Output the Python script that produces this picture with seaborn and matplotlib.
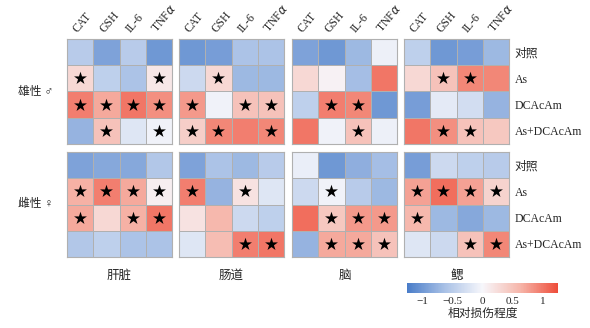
import numpy as np
import matplotlib
matplotlib.use("Agg")
import matplotlib.pyplot as plt
import seaborn as sns
from matplotlib.colors import LinearSegmentedColormap, Normalize
import matplotlib.cm as cm

sns.set_style("white")
plt.rcParams['font.family'] = ['Liberation Serif', 'Noto Sans CJK SC', 'DejaVu Sans']
plt.rcParams['axes.unicode_minus'] = True

# ======= DATA =======
indicators = ["CAT", "GSH", "IL-6", r"TNF$\alpha$"]
treatments = ["对照", "As", "DCAcAm", "As+DCAcAm"]
tissues = ["肝脏", "肠道", "脑", "鳃"]
sexes = ["雄性 ♂", "雌性 ♀"]

# relative damage, rows = treatments, cols = indicators
male_liver = [[-0.5, -0.9, -0.5, -1.0],
              [0.3, -0.45, -0.6, 0.15],
              [0.95, 0.7, 1.0, 0.85],
              [-0.75, 0.5, -0.2, -0.05]]
male_gut = [[-1.0, -0.95, -0.6, -0.6],
            [-0.35, 0.3, -0.7, -0.7],
            [0.8, -0.05, 0.5, 0.5],
            [0.4, 0.9, 0.95, 0.9]]
male_brain = [[-0.9, -1.0, -0.7, -0.08],
              [0.3, 0.05, -0.65, 1.0],
              [-0.45, 0.95, 0.9, -1.0],
              [1.0, -0.05, 0.5, -0.08]]
male_gill = [[-0.45, -1.0, -0.95, -0.7],
             [0.3, 0.5, 0.9, 0.9],
             [-0.95, -0.15, -0.3, -0.75],
             [1.0, 0.85, 0.5, 0.45]]
female_liver = [[-0.9, -0.85, -0.85, -0.55],
                [0.65, 0.95, 0.7, 0.08],
                [0.7, 0.3, 0.65, 1.0],
                [-0.55, -0.45, -0.6, -0.6]]
female_gut = [[-0.9, -0.6, -0.7, -0.5],
              [0.95, -0.75, 0.2, -0.2],
              [0.2, 0.6, -0.35, -0.45],
              [-0.2, 0.55, 0.95, 1.0]]
female_brain = [[-0.1, -1.0, -0.8, -0.65],
                [-0.35, -0.05, -0.5, -0.7],
                [1.05, 0.45, 0.8, 0.8],
                [-0.75, 0.7, 0.7, 0.5]]
female_gill = [[-0.95, -0.35, -0.45, -0.5],
               [0.75, 1.05, 0.75, 0.35],
               [0.6, -0.7, -0.85, -0.7],
               [-0.2, -0.35, 0.5, 0.9]]

# significance marks (1 = star)
male_liver_sig = [[0, 0, 0, 0], [1, 0, 0, 1], [1, 1, 1, 1], [0, 1, 0, 1]]
male_gut_sig = [[0, 0, 0, 0], [0, 1, 0, 0], [1, 0, 1, 1], [1, 1, 0, 1]]
male_brain_sig = [[0, 0, 0, 0], [0, 0, 0, 0], [0, 1, 1, 0], [0, 0, 1, 0]]
male_gill_sig = [[0, 0, 0, 0], [0, 1, 1, 0], [0, 0, 0, 0], [0, 1, 1, 0]]
female_liver_sig = [[0, 0, 0, 0], [1, 1, 1, 1], [1, 0, 1, 1], [0, 0, 0, 0]]
female_gut_sig = [[0, 0, 0, 0], [1, 0, 1, 0], [0, 0, 0, 0], [0, 0, 1, 1]]
female_brain_sig = [[0, 0, 0, 0], [0, 1, 0, 0], [0, 1, 1, 1], [0, 1, 1, 1]]
female_gill_sig = [[0, 0, 0, 0], [1, 1, 1, 1], [1, 0, 0, 0], [0, 0, 1, 1]]

values = [[male_liver, male_gut, male_brain, male_gill],
          [female_liver, female_gut, female_brain, female_gill]]
stars = [[male_liver_sig, male_gut_sig, male_brain_sig, male_gill_sig],
         [female_liver_sig, female_gut_sig, female_brain_sig, female_gill_sig]]

vmin, vmax = -1.25, 1.25
cmap = LinearSegmentedColormap.from_list(
    "dmg", ["#4a7dc9", "#a9c1e6", "#f7f7fb", "#f6b6aa", "#ee4d3a"])

# ======= LAYOUT (pixels) =======
W, H = 590, 328
fig = plt.figure(figsize=(W / 100, H / 100), dpi=100)

lefts = [67, 179, 292, 404]
tops = [39, 152]
size_w, size_h = 105, 105
fs = 8.5

for r in range(2):
    for c in range(4):
        ax = fig.add_axes([lefts[c] / W, 1 - (tops[r] + size_h) / H,
                           size_w / W, size_h / H])
        data = np.array(values[r][c])
        sns.heatmap(data, ax=ax, cmap=cmap, vmin=vmin, vmax=vmax, cbar=False,
                    linewidths=0.6, linecolor="#b0b0b0", square=False)
        sig = np.array(stars[r][c])
        ys, xs = np.nonzero(sig)
        ax.scatter(xs + 0.5, ys + 0.5, marker="*", s=95, c="black",
                   linewidths=0, zorder=3)
        for sp in ax.spines.values():
            sp.set_visible(True)
            sp.set_color("#b0b0b0")
            sp.set_linewidth(0.8)
        ax.tick_params(length=0)
        if r == 0:
            ax.xaxis.tick_top()
            ax.set_xticks(np.arange(4) + 0.5)
            ax.set_xticklabels(indicators, rotation=50, ha="left",
                               rotation_mode="anchor", fontsize=fs)
            ax.tick_params(axis="x", pad=3)
        else:
            ax.set_xticks([])
            ax.set_xlabel(tissues[c], fontsize=fs + 0.5, labelpad=9)
        if c == 3:
            ax.yaxis.tick_right()
            ax.set_yticks(np.arange(4) + 0.5)
            ax.set_yticklabels(treatments, rotation=0, fontsize=fs)
            ax.tick_params(axis="y", pad=4)
        else:
            ax.set_yticks([])
        if c == 0:
            ax.set_ylabel(sexes[r], rotation=0, fontsize=fs, ha="right",
                          va="center", labelpad=10)

# colorbar
cax = fig.add_axes([407 / W, 1 - 293 / H, 151 / W, 10 / H])
sm = cm.ScalarMappable(norm=Normalize(vmin, vmax), cmap=cmap)
cb = fig.colorbar(sm, cax=cax, orientation="horizontal",
                  ticks=[-1, -0.5, 0, 0.5, 1])
cb.outline.set_visible(False)
cb.ax.set_xticklabels(["\u22121", "\u22120.5", "0", "0.5", "1"], fontsize=8)
cb.ax.tick_params(length=0, pad=3)
cb.set_label("相对损伤程度", fontsize=fs, labelpad=1)

fig.savefig("out.png", dpi=100)
